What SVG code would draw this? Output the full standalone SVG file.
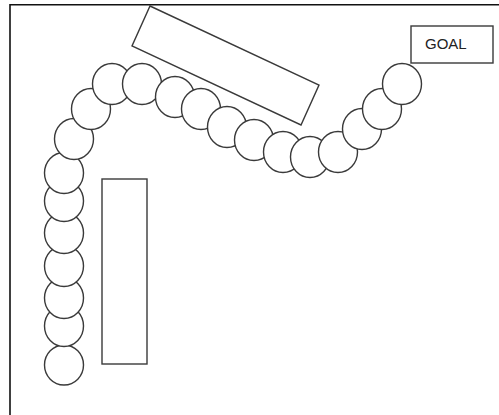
<svg xmlns="http://www.w3.org/2000/svg" width="499" height="415" viewBox="0 0 499 415">
<style>
.s{fill:#fff;stroke:#3a3a3a;stroke-width:1.4}
.b{fill:none;stroke:#111;stroke-width:1.6}
.t{font-family:"Liberation Sans",Arial,sans-serif;font-size:15px;fill:#222}
</style>
<rect width="499" height="415" fill="#fff"/>
<path class="b" d="M10,415 V4.7 H499"/>
<g id="obstacle-tilted"><polygon class="s" points="150,6 319,85 301,125 132,46"/></g>
<g id="obstacle-vertical"><rect class="s" x="102" y="179" width="45" height="185"/></g>
<g id="goal"><rect class="s" x="411" y="26" width="82" height="37"/><text class="t" x="425" y="49">GOAL</text></g>
<g id="path">
<ellipse class="s" cx="64" cy="365" rx="19.5" ry="20"/>
<ellipse class="s" cx="64" cy="326" rx="19.5" ry="20.5"/>
<ellipse class="s" cx="64" cy="298" rx="19.5" ry="20.5"/>
<ellipse class="s" cx="64" cy="266" rx="19.5" ry="20.5"/>
<ellipse class="s" cx="64" cy="233" rx="19.5" ry="20.5"/>
<ellipse class="s" cx="64" cy="201" rx="19.5" ry="20.5"/>
<ellipse class="s" cx="64" cy="173" rx="19.5" ry="20.5"/>
<ellipse class="s" cx="74" cy="139" rx="19.5" ry="20.5"/>
<ellipse class="s" cx="91" cy="109" rx="19.5" ry="20.5"/>
<ellipse class="s" cx="112" cy="84" rx="19.5" ry="20.5"/>
<ellipse class="s" cx="142" cy="84" rx="19.5" ry="20.5"/>
<ellipse class="s" cx="175" cy="97" rx="19.5" ry="20.5"/>
<ellipse class="s" cx="201" cy="109" rx="19.5" ry="20.5"/>
<ellipse class="s" cx="227" cy="127" rx="19.5" ry="20.5"/>
<ellipse class="s" cx="254" cy="140" rx="19.5" ry="20.5"/>
<ellipse class="s" cx="283" cy="152" rx="19.5" ry="20.5"/>
<ellipse class="s" cx="310" cy="157" rx="19.5" ry="20.5"/>
<ellipse class="s" cx="338" cy="152" rx="19.5" ry="20.5"/>
<ellipse class="s" cx="362" cy="129" rx="19.5" ry="20.5"/>
<ellipse class="s" cx="382" cy="109" rx="19.5" ry="20.5"/>
<ellipse class="s" cx="402" cy="84" rx="19.5" ry="20.5"/>
</g>
</svg>
